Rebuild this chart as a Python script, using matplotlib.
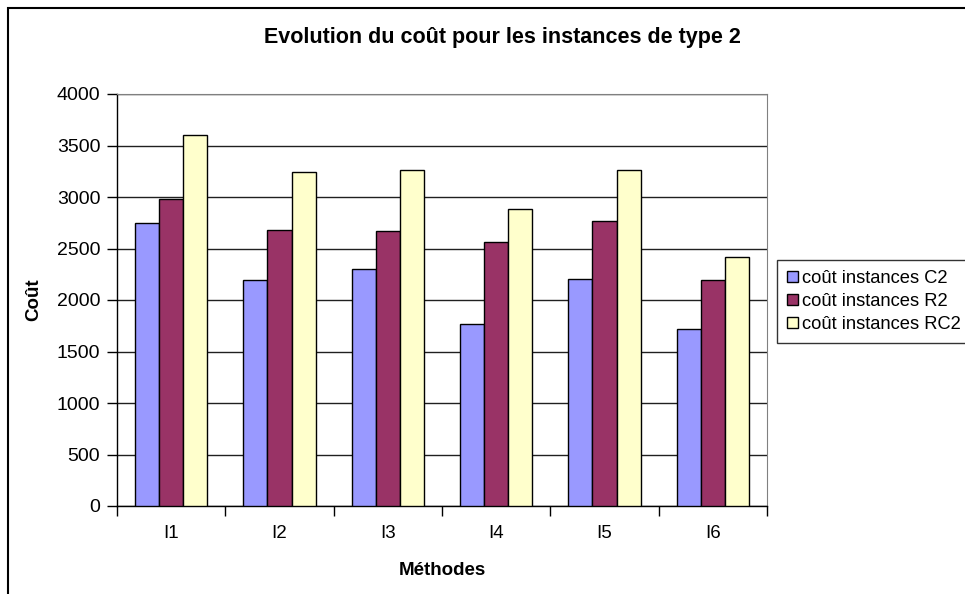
import matplotlib.pyplot as plt
import numpy as np
import matplotlib.patches as patches

plt.rcParams['font.family'] = ['Liberation Sans', 'DejaVu Sans']

# data
methods = ['I1', 'I2', 'I3', 'I4', 'I5', 'I6']
cost_c2 = [2750, 2190, 2300, 1770, 2200, 1720]
cost_r2 = [2980, 2680, 2670, 2560, 2770, 2190]
cost_rc2 = [3600, 3240, 3260, 2880, 3260, 2420]
series_names = ['coût instances C2', 'coût instances R2', 'coût instances RC2']
colors = ['#9999FF', '#993366', '#FFFFCC']

W, H = 965, 594
fig = plt.figure(figsize=(W / 100, H / 100), dpi=100)

# outer chart frame (runs off the right and bottom edges)
fig.patches.append(patches.Rectangle((8 / W, -0.1), 1.2, 1 - 8 / H + 0.1,
                                     transform=fig.transFigure, fill=False,
                                     edgecolor='black', linewidth=1.5))

# plot area in pixels: x 117..767, y 94..506
ax = fig.add_axes([117 / W, 1 - 506 / H, 650 / W, 412 / H])

x = np.arange(len(methods))
bw = 0.222
for k, vals in enumerate([cost_c2, cost_r2, cost_rc2]):
    ax.bar(x + (k - 1) * bw, vals, width=bw, color=colors[k],
           edgecolor='black', linewidth=1, label=series_names[k], zorder=3)

ax.set_xlim(-0.5, len(methods) - 0.5)
ax.set_ylim(0, 4000)
ax.set_yticks(np.arange(0, 4001, 500))
ax.yaxis.grid(True, color='#202020', linewidth=1, zorder=0)

# tick marks between categories, labels at centres
ax.set_xticks(np.arange(-0.5, len(methods), 1.0))
ax.set_xticklabels([])
ax.set_xticks(x, minor=True)
ax.set_xticklabels(methods, minor=True)
ax.tick_params(axis='x', which='major', length=7, width=1, direction='out')
ax.tick_params(axis='x', which='minor', length=0, pad=14, labelsize=13.5)
ax.tick_params(axis='y', length=7, width=1, direction='out', pad=5, labelsize=14)

for s in ['top', 'right']:
    ax.spines[s].set_color('#808080')
for s in ['left', 'bottom']:
    ax.spines[s].set_color('black')
    ax.spines[s].set_linewidth(1)

ax.set_ylabel('Coût', fontsize=13.5, fontweight='bold')
ax.yaxis.set_label_coords((42 - 117) / 650, 0.5)
ax.set_xlabel('Méthodes', fontsize=13.5, fontweight='bold')
ax.xaxis.set_label_coords(0.5, -(562 - 506) / 412)

fig.text(502 / W, 1 - 37 / H, 'Evolution du coût pour les instances de type 2',
         ha='center', va='center', fontsize=15.5, fontweight='bold')

leg = fig.legend(loc='upper left', bbox_to_anchor=(777 / W, 1 - 260 / H),
                 fontsize=13.2, frameon=True, fancybox=False, edgecolor='black',
                 handlelength=0.6, handleheight=0.6, handletextpad=0.2,
                 labelspacing=0.32, borderpad=0.55, borderaxespad=0)
leg.get_frame().set_linewidth(1)

fig.savefig('out.png', dpi=100)
